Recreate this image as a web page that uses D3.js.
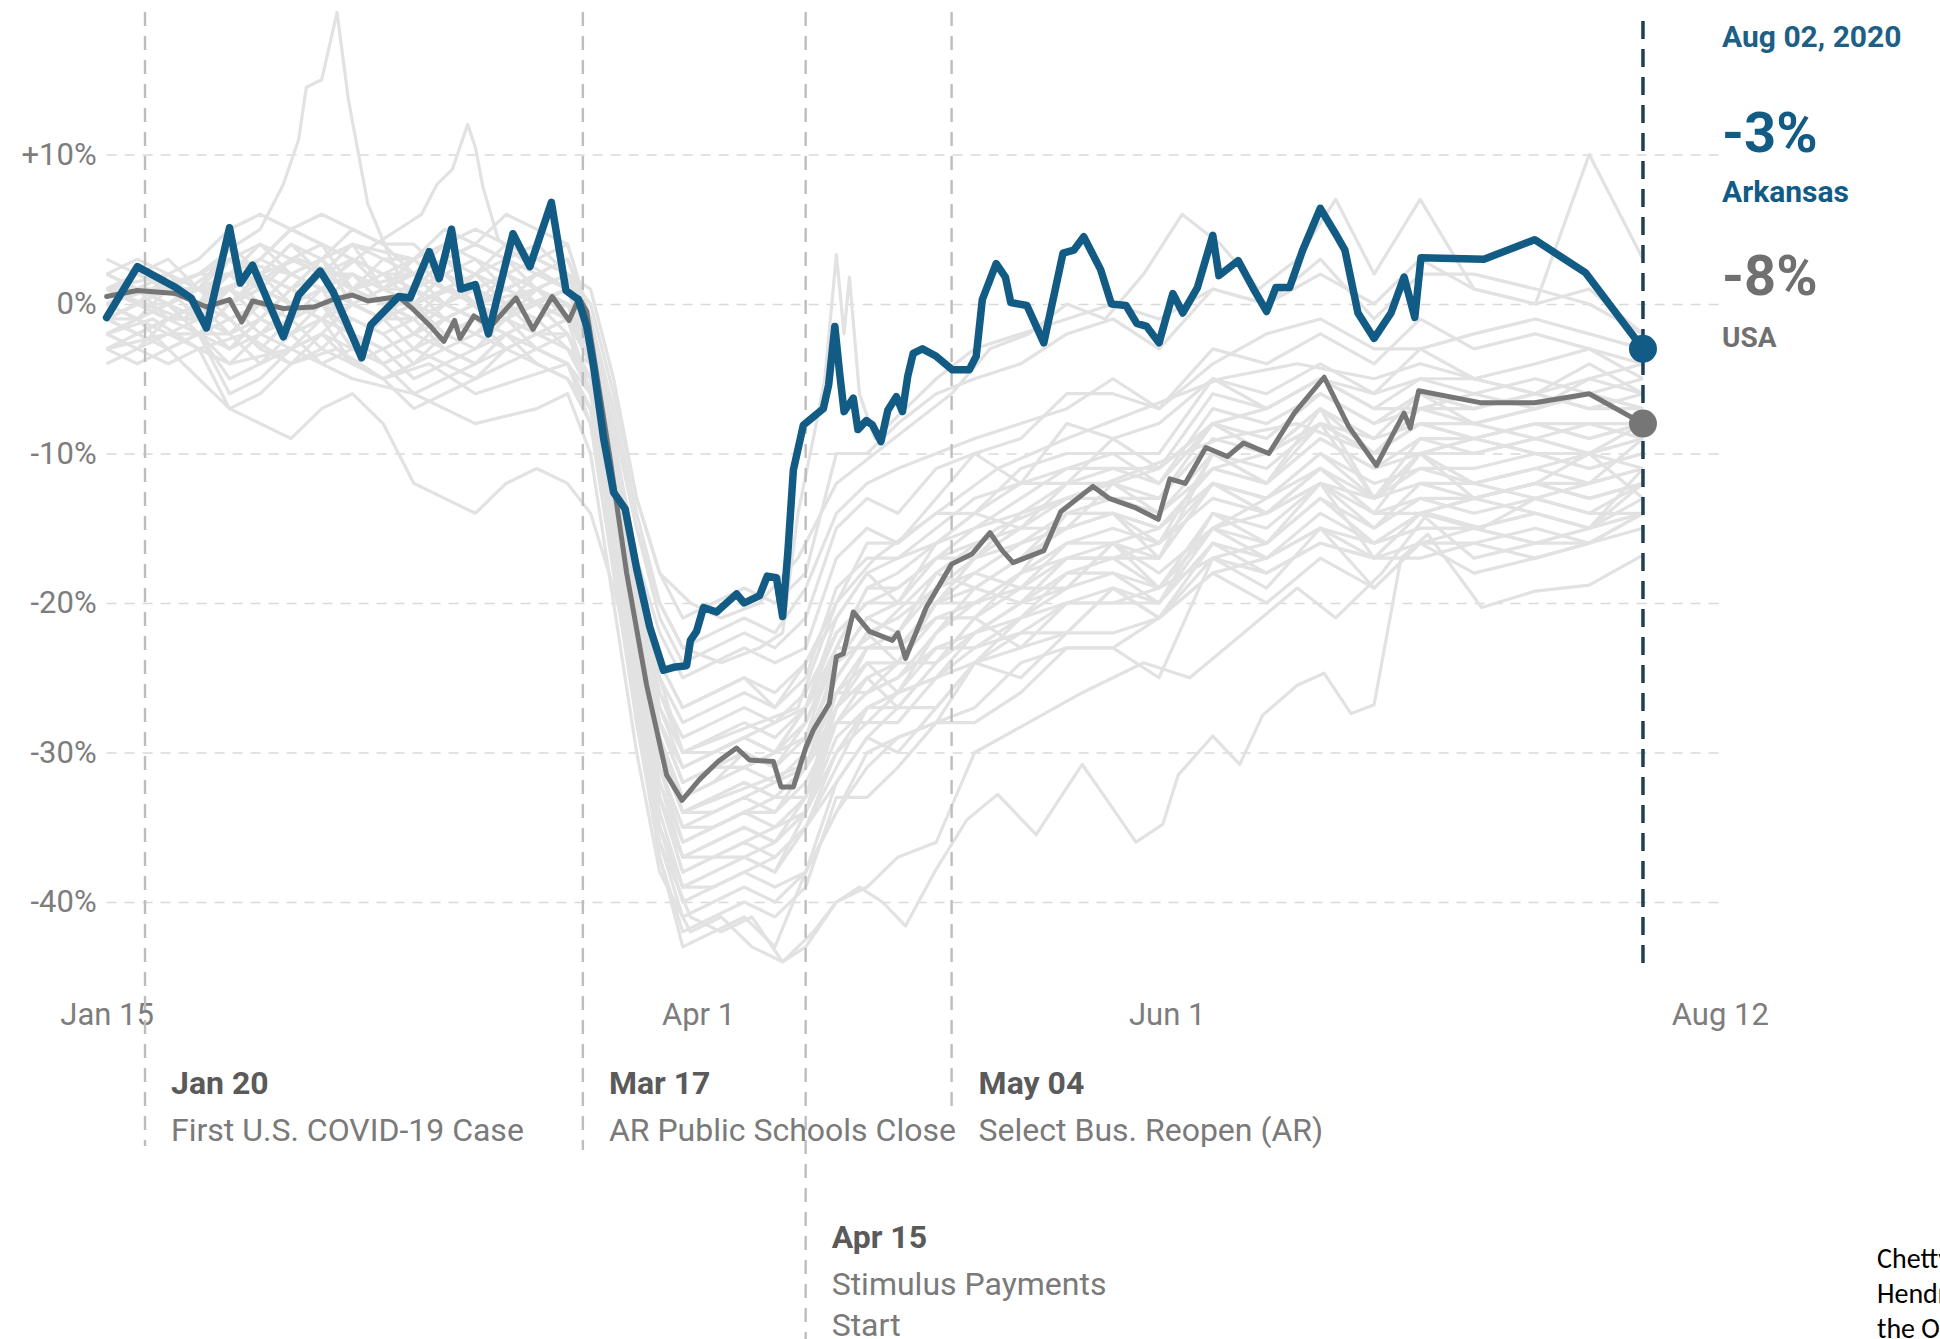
<!DOCTYPE html>
<html><head><meta charset="utf-8">
<script src="https://cdn.jsdelivr.net/npm/d3@7"></script>
<style>
html,body{margin:0;padding:0;background:#fff;overflow:hidden;}
svg{display:block;background:#fff;}
</style></head><body>
<svg id="chart" width="1940" height="1339"></svg>
<script>
// ---------- DATA (days since Jan 15, 2020 ; % change in spending) ----------
const yTicks = [10, 0, -10, -20, -30, -40];
const xTickDays = [0, 77, 138, 210];
const xTickLabels = ["Jan 15", "Apr 1", "Jun 1", "Aug 12"];

const eventDays = [5, 62, 91, 110];
const eventDates = ["Jan 20", "Mar 17", "Apr 15", "May 04"];
const eventTexts = [["First U.S. COVID-19 Case"], ["AR Public Schools Close"], ["Stimulus Payments", "Start"], ["Select Bus. Reopen (AR)"]];
const lastDay = 200;
const lastDateLabel = "Aug 02, 2020";

const arkansas = [[0,-0.9],[4,2.5],[9,1.1],[11,0.4],[13,-1.6],[16,5.1],[17.4,1.4],[19,2.6],[23,-2.2],[25,0.6],[27.8,2.2],[29.5,0.8],[33.2,-3.6],[34.4,-1.4],[38,0.5],[39.5,0.4],[42,3.5],[43.3,1.7],[44.9,5],[46.1,1],[48,1.3],[49.7,-2],[52.9,4.7],[55.1,2.5],[57.9,6.8],[59.8,0.9],[61.4,0.3],[62.5,-1.5],[63.4,-4.2],[64.7,-9],[66,-12.6],[67.5,-13.7],[69,-17.7],[70.7,-21.6],[72.5,-24.5],[73.8,-24.3],[75.5,-24.2],[76,-22.5],[76.8,-21.9],[77.7,-20.3],[79.4,-20.6],[82,-19.4],[83,-20],[85,-19.5],[86,-18.2],[87.2,-18.3],[88,-20.9],[88.7,-16.5],[89.4,-11.1],[90.7,-8.1],[93.3,-7],[94,-5.4],[94.8,-1.5],[95.4,-4.5],[96,-7.2],[97.2,-6.3],[97.8,-8.4],[98.9,-7.8],[99.7,-8.1],[100.8,-9.2],[101.7,-7.1],[102.8,-6.2],[103.6,-7.2],[104.3,-4.8],[105,-3.3],[106.2,-3],[108,-3.5],[110.1,-4.4],[112.3,-4.4],[113.2,-3.5],[114,0.3],[115.8,2.7],[117,1.8],[117.7,0.1],[119.8,-0.1],[122,-2.6],[124.5,3.4],[125.9,3.6],[127.2,4.5],[129.4,2.3],[130.8,0],[132.7,-0.1],[134.1,-1.3],[135.4,-1.5],[137,-2.6],[138.8,0.7],[140.1,-0.6],[142,1.1],[144,4.6],[144.8,1.9],[147.3,2.9],[149.2,1.1],[151,-0.5],[152.2,1.1],[154,1.1],[155.7,3.6],[158,6.4],[160.1,4.6],[161.2,3.6],[162.9,-0.6],[165,-2.3],[167.2,-0.6],[168.9,1.8],[170.3,-0.9],[171.1,3.1],[179.3,3.0],[185.9,4.3],[192.5,2.1],[200,-3]];

const usa = [[0,0.5],[4,0.9],[9,0.7],[13,-0.2],[16,0.3],[17.6,-1.2],[19,0.2],[23,-0.3],[27,-0.2],[29.5,0.3],[32,0.6],[34,0.2],[38,0.5],[40,-0.4],[42,-1.4],[43.9,-2.5],[45.3,-1.1],[46,-2.3],[47.8,-0.8],[50,-1.5],[53.3,0.4],[55.5,-1.7],[58,0.5],[60.2,-1.1],[61.5,0.4],[62.5,-0.5],[65.5,-10.2],[67.7,-18],[70.3,-25.5],[72.9,-31.5],[74.9,-33.2],[77.2,-31.8],[79.6,-30.6],[82,-29.7],[83.7,-30.5],[86.8,-30.6],[87.8,-32.3],[89.4,-32.3],[91,-29.7],[92,-28.5],[94.1,-26.7],[95,-23.6],[95.9,-23.4],[97.2,-20.6],[99.3,-21.9],[102.3,-22.5],[103,-22],[104,-23.7],[106.7,-20.3],[110,-17.4],[112.7,-16.7],[115,-15.3],[116.6,-16.5],[118,-17.3],[122,-16.5],[124.2,-13.9],[128.4,-12.2],[130.5,-13],[133.8,-13.6],[136.9,-14.4],[138.4,-11.7],[140.4,-12],[143.1,-9.6],[145.9,-10.2],[148,-9.3],[151.3,-10],[154.6,-7.3],[158.5,-4.9],[161.7,-8.2],[165.3,-10.8],[168.9,-7.3],[169.7,-8.3],[170.8,-5.8],[178.8,-6.6],[185.9,-6.6],[193,-6],[200,-8]];

// other states, sampled on a common set of days
const stateDays = [0,4,8,12,16,20,24,28,32,36,40,44,48,52,56,60,63,66,69,72,75,79,83,87,91,95,99,103,108,113,119,125,131,137,144,151,158,165,171,178,186,193,200];
const stateValues = [
 [2,3,2,3,5,6,5,4,3,2,3,5,4,3,4,2, 1,-5,-13,-18, -21,-20,-19,-20, -18,-10,-10,-8,-6,-5,-4,-2,-1,-3,1,0,3,-1,2,2,1,0, -2],
 [0,1,0,1,0,1,3,4,3,2,0,1,2,4,3,2, -1,-7,-14,-20, -23,-22,-21,-22, -19,-14,-12,-11,-10,-9,-8,-7,-5,-7,-4,-2,-1,-3,-3,-2,-1,-2, -3],
 [0,-1,0,-2,0,-2,-3,-1,1,0,0,-2,-3,-2,-1,0, -3,-9,-17,-22, -25,-24,-23,-24, -23,-17,-15,-16,-13,-10,-12,-8,-9,-8,-5,-6,-4,-6,-3,-5,-4,-3, -5],
 [1,0,1,1,0,2,4,3,0,-1,0,2,3,2,0,-1, -2,-9,-17,-24, -27,-26,-25,-26, -24,-20,-16,-16,-14,-14,-11,-10,-10,-10,-5,-7,-5,-6,-5,-5,-6,-5, -6],
 [-1,0,-1,0,0,1,0,-1,-2,-3,-2,0,-1,-2,-1,-3, -5,-11,-19,-25, -28,-27,-26,-27, -24,-21,-18,-17,-16,-14,-12,-12,-9,-11,-8,-7,-5,-7,-7,-6,-5,-6, -5],
 [1,0,1,-1,1,-1,-2,0,2,1,1,-1,-2,-1,0,1, -3,-10,-19,-26, -29,-28,-27,-28, -27,-21,-18,-20,-16,-14,-15,-12,-12,-11,-8,-10,-7,-9,-6,-8,-7,-6, -7],
 [1,0,1,1,1,3,5,4,1,0,1,3,4,3,1,0, -1,-9,-19,-26, -30,-29,-28,-29, -27,-23,-19,-19,-17,-17,-14,-13,-13,-13,-8,-10,-8,-9,-8,-8,-9,-8, -9],
 [-3,-2,-3,-2,-5,-4,-2,-1,-2,-3,-5,-4,-3,-1,-2,-3, -6,-13,-21,-28, -31,-30,-29,-30, -27,-24,-21,-20,-20,-17,-15,-15,-12,-14,-11,-10,-8,-10,-10,-9,-8,-9, -8],
 [0,1,0,1,2,3,2,1,0,-1,0,2,1,0,1,-1, -3,-11,-21,-28, -32,-31,-30,-31, -29,-23,-23,-22,-18,-19,-17,-14,-14,-16,-10,-12,-8,-13,-10,-9,-10,-11, -10],
 [2,1,2,0,2,0,-1,1,3,2,2,0,-1,0,1,2, -2,-11,-21,-29, -33,-32,-31,-32, -31,-25,-22,-24,-20,-18,-19,-16,-16,-15,-12,-14,-11,-13,-10,-12,-11,-10, -11],
 [-1,-2,-1,-1,-2,0,2,1,-2,-3,-2,0,1,0,-2,-3, -4,-13,-22,-30, -34,-33,-32,-33, -31,-27,-23,-23,-21,-21,-18,-17,-17,-17,-12,-14,-12,-13,-12,-12,-13,-12, -11],
 [-3,-2,-3,-2,-6,-5,-3,-2,-3,-4,-6,-5,-4,-2,-3,-4, -7,-15,-24,-31, -35,-34,-33,-34, -31,-28,-25,-24,-24,-21,-19,-19,-16,-18,-15,-14,-12,-14,-14,-13,-12,-13, -12],
 [3,2,3,1,4,2,1,3,5,4,4,2,1,2,3,4, -1,-11,-22,-31, -36,-35,-34,-35, -34,-27,-24,-26,-22,-19,-20,-17,-17,-16,-13,-14,-11,-14,-10,-13,-12,-10, -13],
 [-1,-2,-1,0,-1,-3,-4,-2,0,-1,-1,-3,-4,-3,-2,-1, -6,-14,-25,-33, -37,-36,-35,-36, -34,-28,-28,-26,-23,-23,-21,-18,-18,-20,-14,-16,-12,-17,-14,-13,-14,-15, -12],
 [0,-1,1,0,1,2,1,3,0,-1,1,2,0,-1,1,0, -4,-13,-25,-33, -38,-37,-36,-37, -35,-31,-27,-26,-25,-24,-21,-20,-20,-20,-15,-17,-15,-16,-15,-15,-16,-15, -14],
 [-4,-3,-4,-3,-7,-6,-4,-3,-4,-5,-7,-6,-5,-3,-4,-5, -8,-17,-27,-35, -39,-38,-37,-38, -35,-32,-29,-27,-27,-24,-22,-22,-19,-21,-18,-17,-15,-17,-17,-16,-15,-16, -14],
 [1,2,1,1,3,1,0,2,4,1,3,1,0,1,2,1, -3,-13,-26,-35, -40,-39,-38,-39, -38,-32,-29,-30,-27,-24,-25,-22,-22,-21,-18,-20,-17,-19,-16,-18,-17,-16, -15],
 [-2,-3,-2,-2,-4,-2,0,-1,-4,-5,-4,-2,-1,-2,-4,-5, -7,-16,-28,-36, -41,-40,-39,-40, -38,-34,-30,-29,-28,-27,-24,-23,-23,-21,-16,-18,-16,-17,-16,-16,-17,-16, -14],
 [-1,0,-1,0,1,2,1,0,-1,-2,-1,1,0,-1,0,-2, -5,-15,-28,-37, -42,-41,-40,-41, -39,-33,-33,-31,-28,-28,-26,-23,-23,-25,-17,-19,-15,-19,-16,-15,-16,-16, -14],
 [1,2,1,2,2,3,5,6,5,4,2,3,4,6,5,4, -1,-12,-27,-37, -43,-42,-41,-43, -38,-34,-31,-29,-28,-24,-23,-22,-19,-21,-17,-16,-13,-16,-15,-15,-14,-15, -11],
 [-3,-4,-3,-5,-7,-8,-9,-7,-6,-8,-12,-13,-14,-12,-11,-12, -14,-19,-25,-30, -34,-33,-32,-33, -33,-27,-25,-27,-24,-21,-23,-20,-20,-19,-17,-18,-16,-17,-14,-17,-16,-15, -14],
 [2,1,2,0,3,1,0,2,4,3,3,1,0,1,2,3, -1,-10,-19,-27, -31,-30,-29,-30, -28,-23,-19,-18,-16,-15,-13,-11,-11,-11,-6,-7,-5,-7,-5,-6,-7,-5, -4],
 [-1,-2,-1,-1,-3,-1,1,0,-3,-4,-3,-1,0,-1,-3,-4, -6,-14,-25,-33, -37,-36,-35,-36, -33,-26,-26,-24,-20,-20,-18,-14,-14,-17,-10,-12,-7,-13,-9,-9,-10,-10, -8],
 [-1,0,-1,0,-2,-1,1,2,1,0,-2,-1,0,2,1,0, -4,-14,-25,-34, -39,-38,-37,-38, -34,-30,-27,-26,-25,-22,-20,-19,-16,-19,-15,-13,-11,-14,-13,-13,-12,-12, -9],
 [1,2,1,0,2,4,2,1,2,1,2,3,1,0,2,1, -2,-8,-15,-21, -24,-23,-22,-23, -21,-15,-13,-14,-11,-10,-9,-6,-6,-7,-3,-4,-2,-4,-1,-3,-2,-3, -4],
 [-2,-1,-2,-1,-3,-2,-1,-3,-1,-2,-4,-3,-2,-3,-2,-1, -4,-10,-18,-24, -27,-26,-25,-27, -25,-19,-17,-17,-15,-13,-12,-11,-10,-12,-7,-8,-6,-8,-6,-7,-6,-7, -7],
 [0,1,1,0,3,2,4,2,2,1,3,1,2,3,2,1, -2,-10,-20,-27, -30,-30,-29,-28, -26,-22,-20,-20,-17,-16,-15,-13,-12,-13,-9,-10,-7,-10,-8,-9,-8,-8, -8],
 [-1,-1,0,-2,-1,-3,-1,0,-2,-4,-3,-2,-1,-3,-2,-2, -5,-12,-21,-28, -32,-31,-31,-30, -29,-25,-22,-21,-19,-18,-16,-15,-14,-15,-11,-12,-9,-11,-9,-10,-9,-10, -9],
 [1,0,2,1,1,2,0,1,2,0,-1,1,0,1,0,1, -3,-11,-22,-30, -34,-34,-33,-32, -30,-26,-24,-24,-21,-20,-18,-16,-15,-16,-12,-13,-10,-12,-11,-11,-10,-11, -10],
 [-2,-3,-1,-2,-3,-1,-2,-4,-3,-1,-3,-4,-5,-4,-3,-2, -6,-14,-24,-32, -36,-35,-34,-34, -32,-28,-26,-25,-23,-22,-20,-18,-17,-19,-14,-15,-12,-15,-12,-13,-12,-13, -12],
 [2,1,1,2,3,4,3,2,1,3,2,4,3,1,2,3, -1,-12,-24,-32, -37,-37,-36,-35, -33,-28,-26,-25,-22,-20,-19,-17,-16,-17,-12,-13,-10,-13,-11,-12,-11,-12, -11],
 [0,-1,0,1,-1,0,-2,-1,0,1,0,-1,-2,0,-1,0, -4,-14,-26,-35, -39,-39,-38,-37, -35,-30,-28,-28,-25,-23,-22,-20,-19,-20,-16,-17,-14,-16,-14,-15,-14,-15, -13],
 [-1,0,0,-1,1,0,2,3,1,0,-1,0,2,1,0,-1, -4,-12,-22,-29, -33,-32,-30,-31, -28,-24,-21,-22,-19,-17,-16,-14,-13,-14,-10,-11,-8,-10,-8,-9,-8,-9, -8],
 [1,1,0,1,2,1,3,2,1,2,1,0,1,2,3,2, -2,-11,-21,-28, -32,-31,-31,-30, -27,-22,-20,-19,-17,-15,-14,-12,-11,-12,-8,-9,-6,-8,-7,-7,-6,-7, -6],
 [-2,-1,-3,-2,-2,-4,-3,-2,-4,-3,-2,-3,-4,-2,-3,-4, -7,-15,-25,-33, -38,-37,-37,-36, -34,-29,-27,-27,-24,-22,-21,-19,-18,-19,-15,-16,-13,-15,-13,-14,-13,-14, -12],
 [0,1,-1,0,2,1,0,2,3,1,2,3,2,0,1,2, -3,-12,-23,-31, -35,-35,-34,-33, -31,-26,-23,-23,-20,-19,-17,-15,-14,-15,-11,-12,-9,-11,-10,-10,-9,-10, -9]
];

// states that stand out, with their own sampling days
const spikeStateDays = [0,6,12,17,20,23,25,26,28,30,31.5,34,37,40,45,50,55,60,63,66,69,72,75,80,85,90,95,100,108,116,125,135,145,155,165,171,178,186,193,200];
const spikeStateValues = [0,1,2,4,5,8,11,14.5,15,19.5,13.6,6.7,3,0,1,-1,0,1,-2,-9,-18,-25,-30,-29,-28,-27,-20,-17,-14,-11,-9,-7,-5,-4,-5,-4,-5,-6,-4,-6];
const marchStateDays = [0,5,10,15,20,25,30,35,38,41,43,45,47,48,49,51,54,57,60,63,66,69,72,75,80,85,90,95,100,108,116,125,135,145,155,165,171,178,186,193,200];
const marchStateValues = [1,0,-1,1,2,3,2,4,5,6,8,9,12,10.5,7.8,4.3,3,2,1,-3,-12,-22,-29,-34,-33,-32,-31,-24,-22,-18,-15,-13,-11,-9,-8,-10,-7,-8,-7,-6,-7];
const lowStateDays = [0,6,12,18,24,30,36,42,48,54,60,63,66,69,72,76,80,84,88,92,95,98,101,104,108,112,116,121,127,130,134,137.5,139.5,144,147.5,150.5,155,158.5,162,165,168.5,172,179,186,193,200];
const lowStateValues = [-2,-1,-3,-2,-4,-3,-5,-4,-6,-5,-4,-8,-18,-28,-36,-41,-42,-41,-44,-42,-40,-39,-40,-41.6,-37.8,-34.5,-32.8,-35.5,-30.8,-33,-36,-34.8,-31.5,-28.9,-30.8,-27.5,-25.5,-24.7,-27.4,-26.8,-17,-15.4,-20.3,-19.2,-18.8,-16.8];
const low2StateDays = [0,8,16,24,32,40,48,56,60,63,66,69,72,76,80,84,88,91,95,99,103,108,113,120,127,135,141,148,155,160,166,172,179,186,193,200];
const low2StateValues = [-3,-2,-4,-3,-5,-6,-8,-7,-6,-10,-20,-30,-38,-42,-41,-43,-44,-43,-40,-39,-37,-36,-30,-28,-26,-24,-25,-22,-19,-21,-18,-14,-15,-13,-14,-14];
const aprilSpikeDays = [0,8,16,24,32,40,48,56,60,63,66,69,72,75,80,85,88,90,92,93.5,95,96,96.7,98,100,104,108,113,119,125,131,137,144,151,158,165,171,178,186,193,200];
const aprilSpikeValues = [1,2,0,3,1,2,0,1,2,-1,-8,-15,-20,-23,-24,-23,-22,-14,-9,-5,3.3,-2,1.8,-6,-9,-7,-5,-3,-2,-1,0,-1,1,0,2,0,3,1,0,1,-2];
const summerHighDays = [0,8,16,24,32,40,48,56,60,63,66,69,72,76,80,85,90,95,100,105,110,115,120,125,130,135,140,145,150,155,160,165,171,178,186,193,200];
const summerHighValues = [2,0,3,2,4,3,5,3,2,0,-6,-13,-18,-20,-21,-20,-17,-12,-10,-8,-6,-3,-2,0,-1,2,6,4,1,3,7,2,7,1,0,10,3];

// ---------- CHART ----------
const svg = d3.select("#chart");
const FONT = "Roboto, 'Noto Sans', sans-serif";
const x = d3.scaleLinear().domain([0, 210]).range([106.6, 1719.8]);
const y = d3.scaleLinear().domain([-40, 10]).range([902, 154.5]);

// horizontal gridlines + y labels
const gy = svg.append("g")
  .attr("transform", `translate(${x(0)},0)`)
  .call(d3.axisLeft(y).tickValues(yTicks).tickSize(-(x(210) - x(0))).tickPadding(10)
    .tickFormat(d => d > 0 ? `+${d}%` : `${d}%`));
gy.attr("font-family", FONT).attr("font-size", 31);
gy.select(".domain").remove();
gy.selectAll(".tick line").attr("stroke", "#d9d9d9").attr("stroke-width", 1.6).attr("stroke-dasharray", "10,8");
gy.selectAll(".tick text").attr("fill", "#7d7d7d");

// x labels
const gx = svg.append("g")
  .attr("transform", "translate(0,1003)")
  .call(d3.axisBottom(x).tickValues(xTickDays).tickSize(0).tickPadding(0)
    .tickFormat((d, i) => xTickLabels[i]));
gx.attr("font-family", FONT).attr("font-size", 31);
gx.select(".domain").remove();
gx.selectAll(".tick text").attr("fill", "#7d7d7d");

const line = d3.line().x(d => x(d[0])).y(d => y(d[1])).curve(d3.curveLinear);
const zip = (days, vals) => days.slice(0, Math.min(days.length, vals.length)).map((d, i) => [d, vals[i]]);

const grey = [];
stateValues.forEach(v => grey.push(zip(stateDays, v)));
grey.push(zip(spikeStateDays, spikeStateValues));
grey.push(zip(marchStateDays, marchStateValues));
grey.push(zip(lowStateDays, lowStateValues));
grey.push(zip(low2StateDays, low2StateValues));
grey.push(zip(aprilSpikeDays, aprilSpikeValues));
grey.push(zip(summerHighDays, summerHighValues));

svg.append("g").selectAll("path").data(grey).join("path")
  .attr("d", line).attr("fill", "none").attr("stroke", "#e2e2e2")
  .attr("stroke-width", 3.2).attr("stroke-linejoin", "round");

// event lines
const eventBottom = [1146, 1150, 1339, 1107];
svg.append("g").selectAll("line").data(eventDays).join("line")
  .attr("x1", d => x(d)).attr("x2", d => x(d))
  .attr("y1", 12).attr("y2", (d, i) => eventBottom[i])
  .attr("stroke", "#bdbdbd").attr("stroke-width", 2.4).attr("stroke-dasharray", "14,10");

// USA & Arkansas
svg.append("path").datum(usa).attr("d", line).attr("fill", "none")
  .attr("stroke", "#767676").attr("stroke-width", 5).attr("stroke-linejoin", "round").attr("stroke-linecap", "round");
svg.append("path").datum(arkansas).attr("d", line).attr("fill", "none")
  .attr("stroke", "#115b84").attr("stroke-width", 7.5).attr("stroke-linejoin", "round").attr("stroke-linecap", "round");

// current date line
svg.append("line").attr("x1", x(lastDay)).attr("x2", x(lastDay)).attr("y1", 21).attr("y2", 971)
  .attr("stroke", "#1e3f55").attr("stroke-width", 3.5).attr("stroke-dasharray", "18,10");

const lastAr = arkansas[arkansas.length - 1], lastUs = usa[usa.length - 1];
svg.append("circle").attr("cx", x(lastAr[0])).attr("cy", y(lastAr[1])).attr("r", 14).attr("fill", "#115b84");
svg.append("circle").attr("cx", x(lastUs[0])).attr("cy", y(lastUs[1])).attr("r", 14).attr("fill", "#767676");

// right labels
const rl = svg.append("g").attr("font-family", FONT).attr("font-weight", 700);
const lx = 1722;
rl.append("text").attr("x", lx).attr("y", 47).attr("font-size", 30).attr("fill", "#1d5f85").text(lastDateLabel);
rl.append("text").attr("x", lx).attr("y", 152).attr("font-size", 56).attr("fill", "#115b84").text(`${Math.round(lastAr[1])}%`);
rl.append("text").attr("x", lx).attr("y", 202).attr("font-size", 30).attr("fill", "#115b84").text("Arkansas");
rl.append("text").attr("x", lx).attr("y", 295).attr("font-size", 56).attr("fill", "#707070").text(`${Math.round(lastUs[1])}%`);
rl.append("text").attr("x", lx).attr("y", 347).attr("font-size", 28).attr("fill", "#707070").text("USA");

// event annotations
const ann = svg.append("g").attr("font-family", FONT).attr("font-size", 32);
const eventTop = [1094, 1094, 1248, 1094];
eventDays.forEach((d, i) => {
  const tx = x(d) + (i === 3 ? 27 : 26);
  ann.append("text").attr("x", tx).attr("y", eventTop[i]).attr("font-weight", 700).attr("fill", "#5a5a5a").text(eventDates[i]);
  eventTexts[i].forEach((t, j) => {
    ann.append("text").attr("x", tx).attr("y", eventTop[i] + 47 + j * 41).attr("fill", "#7a7a7a").text(t);
  });
});

// source text (cut at the right edge as in the original)
const src = svg.append("g").attr("font-family", "Carlito, Lato, 'Liberation Sans', sans-serif").attr("font-size", 28).attr("fill", "#000");
["Chetty, Friedman,", "Hendren, Stepner and", "the Opportunity Insights Team"].forEach((t, i) => {
  src.append("text").attr("x", 1877).attr("y", 1268 + i * 35).text(t);
});
</script></body></html>
